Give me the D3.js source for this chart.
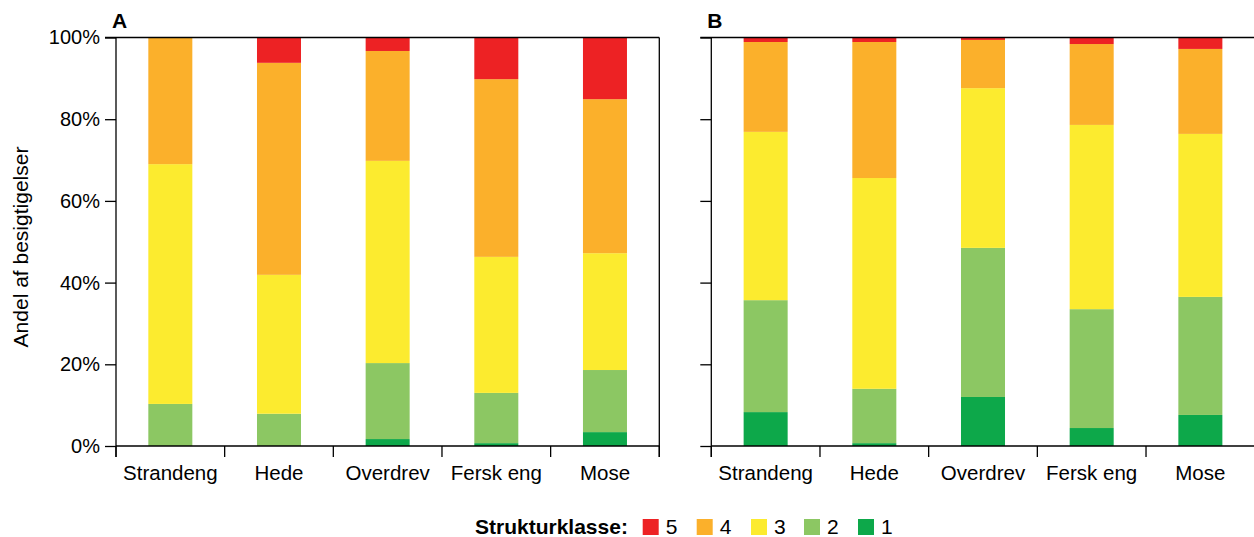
<!DOCTYPE html>
<html>
<head>
<meta charset="utf-8">
<script src="https://cdn.jsdelivr.net/npm/d3@7"></script>
<style>
  html, body { margin: 0; padding: 0; background: #fff; }
  svg { display: block; font-family: "Liberation Sans", Arial, sans-serif; }
</style>
</head>
<body>
<svg id="chart" width="1254" height="537"></svg>
<script>
// ---- data ----
const categories = ["Strandeng", "Hede", "Overdrev", "Fersk eng", "Mose"];
const classes = ["1", "2", "3", "4", "5"];
const legendOrder = ["5", "4", "3", "2", "1"];
const classColors = ["#0DA84A", "#8CC763", "#FCEB2F", "#FBB02B", "#ED2224"];
const yTicks = [0, 20, 40, 60, 80, 100];
const panelLabels = ["A", "B"];

// Panel A values (% per class 1..5) for each category
const panelA_class1 = [0.0, 0.0, 1.7, 0.7, 3.4];
const panelA_class2 = [10.3, 7.9, 18.6, 12.3, 15.2];
const panelA_class3 = [58.7, 34.0, 49.5, 33.3, 28.6];
const panelA_class4 = [31.0, 51.9, 26.9, 43.5, 37.7];
const panelA_class5 = [0.0, 6.2, 3.3, 10.2, 15.1];

// Panel B values
const panelB_class1 = [8.3, 0.7, 12.0, 4.4, 7.6];
const panelB_class2 = [27.4, 13.3, 36.5, 29.1, 28.9];
const panelB_class3 = [41.2, 51.6, 39.1, 45.1, 39.9];
const panelB_class4 = [22.0, 33.3, 11.8, 19.8, 20.8];
const panelB_class5 = [1.1, 1.1, 0.6, 1.6, 2.8];

function buildRows(c1, c2, c3, c4, c5) {
  return categories.map((cat, i) => ({
    cat, "1": c1[i], "2": c2[i], "3": c3[i], "4": c4[i], "5": c5[i]
  }));
}
const panels = [
  { label: panelLabels[0], rows: buildRows(panelA_class1, panelA_class2, panelA_class3, panelA_class4, panelA_class5), x0: 116, x1: 659.3, showYLabels: true, rightFrame: true },
  { label: panelLabels[1], rows: buildRows(panelB_class1, panelB_class2, panelB_class3, panelB_class4, panelB_class5), x0: 711.3, x1: 1254.7, showYLabels: false, rightFrame: false }
];

const svg = d3.select("#chart");
const yTop = 37.5, yBottom = 446;
const y = d3.scaleLinear().domain([0, 100]).range([yBottom, yTop]);
const color = d3.scaleOrdinal().domain(classes).range(classColors);
const stack = d3.stack().keys(classes);
const lineW = 1.3;

panels.forEach(p => {
  const g = svg.append("g");
  const x = d3.scaleBand().domain(categories).range([p.x0, p.x1]).paddingInner(0.595).paddingOuter(0.2975);
  const step = (p.x1 - p.x0) / categories.length;

  // normalize each row to 100
  const rows = p.rows.map(r => {
    const tot = classes.reduce((s, k) => s + r[k], 0);
    const o = { cat: r.cat };
    classes.forEach(k => o[k] = r[k] / tot * 100);
    return o;
  });
  const series = stack(rows);

  g.selectAll("g.layer").data(series).join("g")
    .attr("class", "layer")
    .attr("fill", d => color(d.key))
    .selectAll("rect").data(d => d).join("rect")
    .attr("x", d => x(d.data.cat))
    .attr("width", x.bandwidth())
    .attr("y", d => y(d[1]))
    .attr("height", d => Math.max(0, y(d[0]) - y(d[1])));

  // Y axis
  const yAxis = d3.axisLeft(y).tickValues(yTicks).tickSize(11).tickPadding(5)
    .tickFormat(d => p.showYLabels ? d + "%" : "");
  const ya = g.append("g").attr("transform", `translate(${p.x0},0)`).call(yAxis);
  ya.select(".domain").remove();
  ya.selectAll("line").attr("stroke", "#000").attr("stroke-width", lineW);
  ya.selectAll("text").attr("font-size", 20).attr("fill", "#000");
  g.append("line").attr("x1", p.x0).attr("x2", p.x0).attr("y1", yTop).attr("y2", yBottom + 11)
    .attr("stroke", "#000").attr("stroke-width", lineW);

  // X axis labels
  const xAxis = d3.axisBottom(x).tickSize(0).tickPadding(19);
  const xa = g.append("g").attr("transform", `translate(0,${yBottom})`).call(xAxis);
  xa.select(".domain").remove();
  xa.selectAll("text").attr("font-size", 20.5).attr("fill", "#000");

  // bottom baseline + separator ticks
  g.append("line").attr("x1", p.x0).attr("x2", p.x1).attr("y1", yBottom).attr("y2", yBottom)
    .attr("stroke", "#000").attr("stroke-width", lineW);
  d3.range(categories.length + 1).forEach(i => {
    const xx = p.x0 + i * step;
    g.append("line").attr("x1", xx).attr("x2", xx).attr("y1", yBottom).attr("y2", yBottom + 11)
      .attr("stroke", "#000").attr("stroke-width", lineW);
  });

  // frame top / right
  g.append("line").attr("x1", p.x0 - 11).attr("x2", p.x1).attr("y1", yTop).attr("y2", yTop)
    .attr("stroke", "#000").attr("stroke-width", lineW);
  if (p.rightFrame) {
    g.append("line").attr("x1", p.x1).attr("x2", p.x1).attr("y1", yTop).attr("y2", yBottom + 11)
      .attr("stroke", "#000").attr("stroke-width", lineW);
  }

  // panel label
  g.append("text").attr("x", p.x0 - 4).attr("y", 28).attr("font-size", 21).attr("font-weight", "bold")
    .attr("fill", "#000").text(p.label);
});

// Y axis title
svg.append("text")
  .attr("transform", `translate(28,247) rotate(-90)`)
  .attr("text-anchor", "middle")
  .attr("font-size", 21)
  .attr("fill", "#000")
  .text("Andel af besigtigelser");

// Legend
const lg = svg.append("g");
lg.append("text").attr("x", 475).attr("y", 534).attr("font-size", 21).attr("font-weight", "bold")
  .attr("fill", "#000").text("Strukturklasse:");
const legendX = [642.7, 696.7, 751, 804, 858];
legendOrder.forEach((k, i) => {
  lg.append("rect").attr("x", legendX[i]).attr("y", 519).attr("width", 16).attr("height", 16).attr("fill", color(k));
  lg.append("text").attr("x", legendX[i] + 23).attr("y", 534).attr("font-size", 21).attr("fill", "#000").text(k);
});
</script>
</body>
</html>
